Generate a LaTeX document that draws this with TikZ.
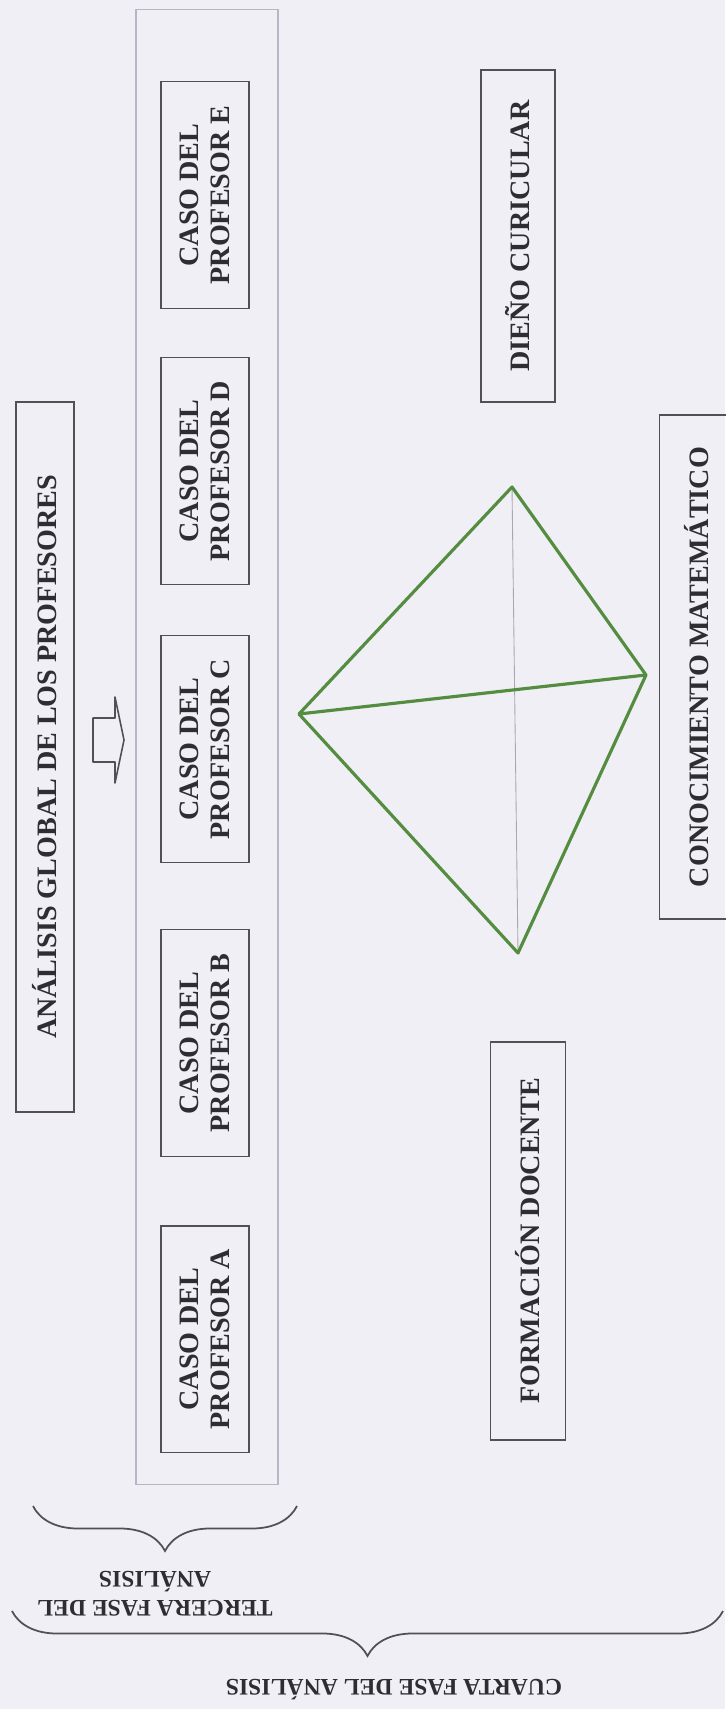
\documentclass[tikz,border=0pt]{standalone}
\usepackage{fontspec}
\setmainfont{Liberation Serif}
\usepackage{xcolor}
\usetikzlibrary{decorations.pathreplacing}
\definecolor{paper}{RGB}{239,239,245}
\definecolor{boxgray}{RGB}{80,80,86}
\definecolor{panelgray}{RGB}{182,182,198}
\definecolor{tetragreen}{RGB}{84,140,64}
\definecolor{hiddengray}{RGB}{168,168,178}
\definecolor{inkgray}{RGB}{45,45,50}

\begin{document}
\begin{tikzpicture}[
  x=0.02cm, y=-0.02cm,
  box/.style={draw=boxgray, line width=1.1pt, rotate=90, align=center, inner sep=2pt,
    text=inkgray, font=\fontsize{16}{18}\selectfont\bfseries},
  caso/.style={box, minimum width=4.54cm, minimum height=1.76cm},
  panel/.style={draw=panelgray, line width=0.7pt, minimum width=2.84cm, minimum height=29.5cm},
  arista/.style={tetragreen, line width=1.8pt, line join=round},
  oculta/.style={hiddengray, line width=0.5pt},
  llave/.style={draw=boxgray, line width=1pt, decorate, decoration={brace, amplitude=0.9cm}},
  fase/.style={rotate=180, align=center, text=inkgray, font=\fontsize{13.5}{16.5}\selectfont\bfseries},
]
  \fill[paper] (0,0) rectangle (725,1709);
  \useasboundingbox (0,0) rectangle (725,1709);

  % tercera fase: los casos
  \node[box, minimum width=14.22cm, minimum height=1.16cm] (anali) at (45,757) {ANÁLISIS GLOBAL DE LOS PROFESORES};
  \node[panel] (panel) at (207,747) {};
  \node[caso] (casoE) at (205,195)  {CASO DEL\\PROFESOR E};
  \node[caso] (casoD) at (205,471)  {CASO DEL\\PROFESOR D};
  \node[caso] (casoC) at (205,749)  {CASO DEL\\PROFESOR C};
  \node[caso] (casoB) at (205,1043) {CASO DEL\\PROFESOR B};
  \node[caso] (casoA) at (205,1339) {CASO DEL\\PROFESOR A};
  \draw[boxgray, line width=0.9pt, line join=round]
    (93,718) -- (115,718) -- (115,697) -- (124,740) -- (115,783) -- (115,762) -- (93,762) -- cycle;

  % cuarta fase: tetraedro
  \node[box, minimum width=6.64cm, minimum height=1.48cm] (dieno) at (518,236)  {DIEÑO CURICULAR};
  \node[box, minimum width=7.96cm, minimum height=1.5cm]  (forma) at (528,1241) {FORMACIÓN DOCENTE};
  \node[box, minimum width=10.1cm, minimum height=1.5cm]  (conoc) at (697,667)  {CONOCIMIENTO MATEMÁTICO};

  \coordinate (vT) at (512,487);
  \coordinate (vL) at (299,714);
  \coordinate (vR) at (646,675);
  \coordinate (vB) at (518,953);
  \draw[oculta] (vT) -- (vB);
  \draw[arista] (vL) -- (vT) -- (vR) -- (vB) -- cycle;
  \draw[arista] (vL) -- (vR);

  % llaves
  \draw[llave] (297,1506) -- (33,1506);
  \node[fase] (tercera) at (155,1594) {TERCERA FASE DEL\\ANÁLISIS};
  \draw[llave] (723,1611) -- (12,1611);
  \node[fase] (cuarta) at (394,1690) {CUARTA FASE DEL ANÁLISIS};
\end{tikzpicture}
\end{document}
